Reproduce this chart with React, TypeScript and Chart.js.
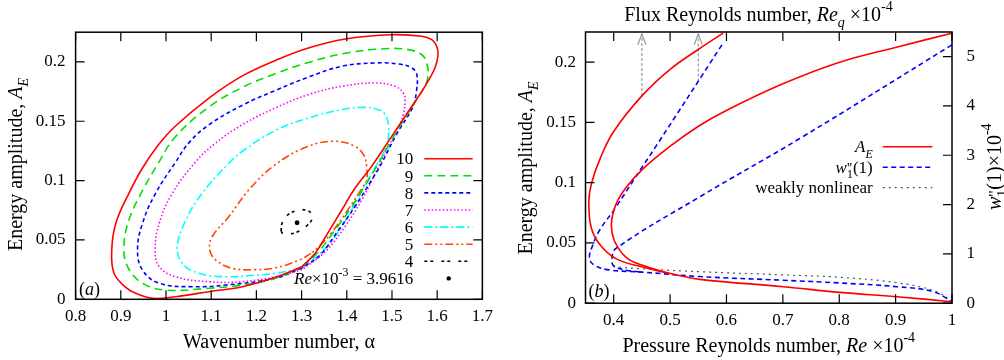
import React, { useEffect, useRef } from 'react';
import { Chart, registerables } from 'chart.js';

Chart.register(...registerables);

const SERIF = '"Liberation Serif", "Times New Roman", Times, serif';

// ---------------- Panel (a): energy amplitude vs wavenumber ----------------
const alphaTicks = [0.8, 0.9, 1.0, 1.1, 1.2, 1.3, 1.4, 1.5, 1.6, 1.7];
const alphaTickLabels = ['0.8', '0.9', '1', '1.1', '1.2', '1.3', '1.4', '1.5', '1.6', '1.7'];
const energyTicks = [0, 0.05, 0.1, 0.15, 0.2];
const energyTickLabels = ['0', '0.05', '0.1', '0.15', '0.2'];
const reLevels = ['10', '9', '8', '7', '6', '5', '4'];

const re10Alpha = [1.301, 1.242, 1.169, 1.095, 1.021, 0.970, 0.933, 0.911, 0.885, 0.880, 0.889, 0.918, 0.948, 0.985, 1.021, 1.095, 1.168, 1.242, 1.315, 1.400, 1.499, 1.566, 1.588, 1.599, 1.602, 1.595, 1.573, 1.544, 1.499, 1.455, 1.418, 1.389, 1.360, 1.330, 1.301];
const re10Energy = [0.0275, 0.0185, 0.0106, 0.0064, 0.0022, 0.0008, 0.0050, 0.0100, 0.0219, 0.0415, 0.0640, 0.0893, 0.1106, 0.1310, 0.1460, 0.1695, 0.1880, 0.2012, 0.2117, 0.2195, 0.2229, 0.2216, 0.2187, 0.2131, 0.2060, 0.1949, 0.1794, 0.1626, 0.1370, 0.1120, 0.0935, 0.0752, 0.0570, 0.0388, 0.0275];

const re9Alpha = [1.301, 1.242, 1.169, 1.095, 0.999, 0.948, 0.915, 0.907, 0.918, 0.948, 0.985, 1.021, 1.095, 1.169, 1.242, 1.315, 1.400, 1.485, 1.536, 1.566, 1.577, 1.579, 1.566, 1.544, 1.505, 1.470, 1.448, 1.411, 1.374, 1.337, 1.301];
const re9Energy = [0.0275, 0.0177, 0.0120, 0.0093, 0.0078, 0.0135, 0.0275, 0.0443, 0.0668, 0.0915, 0.1160, 0.1370, 0.1620, 0.1785, 0.1900, 0.1995, 0.2075, 0.2111, 0.2103, 0.2060, 0.1990, 0.1864, 0.1752, 0.1618, 0.1380, 0.1146, 0.1005, 0.0780, 0.0584, 0.0400, 0.0275];

const re8Alpha = [1.301, 1.242, 1.132, 1.058, 0.985, 0.948, 0.937, 0.948, 0.977, 1.021, 1.051, 1.095, 1.169, 1.242, 1.315, 1.389, 1.463, 1.514, 1.544, 1.555, 1.554, 1.546, 1.510, 1.477, 1.455, 1.418, 1.382, 1.340, 1.301];
const re8Energy = [0.0265, 0.0177, 0.0120, 0.0106, 0.0135, 0.0247, 0.0415, 0.0640, 0.0893, 0.1154, 0.1320, 0.1470, 0.1635, 0.1759, 0.1872, 0.1963, 0.1991, 0.1982, 0.1949, 0.1892, 0.1750, 0.1620, 0.1390, 0.1146, 0.1005, 0.0780, 0.0584, 0.0370, 0.0265];

const re7Alpha = [1.301, 1.242, 1.169, 1.095, 1.021, 0.985, 0.976, 0.985, 1.014, 1.065, 1.110, 1.169, 1.242, 1.315, 1.389, 1.463, 1.507, 1.525, 1.529, 1.525, 1.518, 1.490, 1.463, 1.433, 1.396, 1.352, 1.301];
const re7Energy = [0.0250, 0.0190, 0.0148, 0.0148, 0.0190, 0.0275, 0.0415, 0.0640, 0.0893, 0.1155, 0.1317, 0.1471, 0.1612, 0.1724, 0.1794, 0.1822, 0.1794, 0.1738, 0.1682, 0.1555, 0.1480, 0.1270, 0.1060, 0.0837, 0.0612, 0.0400, 0.0250];

const re6Alpha = [1.300, 1.242, 1.205, 1.132, 1.073, 1.036, 1.025, 1.044, 1.080, 1.139, 1.169, 1.242, 1.315, 1.389, 1.440, 1.470, 1.485, 1.492, 1.492, 1.488, 1.440, 1.389, 1.350, 1.300];
const re6Energy = [0.0260, 0.0219, 0.0205, 0.0190, 0.0219, 0.0303, 0.0443, 0.0668, 0.0893, 0.1146, 0.1247, 0.1422, 0.1527, 0.1597, 0.1617, 0.1597, 0.1555, 0.1471, 0.1359, 0.1286, 0.0960, 0.0612, 0.0420, 0.0260];

const re5Alpha = [1.321, 1.295, 1.242, 1.198, 1.146, 1.110, 1.097, 1.102, 1.139, 1.183, 1.242, 1.315, 1.374, 1.418, 1.437, 1.444, 1.444, 1.436, 1.400, 1.365, 1.340, 1.321];
const re5Energy = [0.0387, 0.0331, 0.0265, 0.0250, 0.0261, 0.0331, 0.0415, 0.0527, 0.0696, 0.0920, 0.1135, 0.1289, 0.1331, 0.1289, 0.1218, 0.1120, 0.1005, 0.0950, 0.0740, 0.0555, 0.0450, 0.0387];

const re4Alpha = [1.2546, 1.2568, 1.269, 1.2876, 1.3097, 1.323, 1.3243, 1.3132, 1.295, 1.273, 1.258, 1.2546];
const re4Energy = [0.0575, 0.0640, 0.0710, 0.0746, 0.0752, 0.0719, 0.0682, 0.0626, 0.0575, 0.0550, 0.0556, 0.0575];

const criticalAlpha = [1.29];
const criticalEnergy = [0.0645];
const criticalRe = '3.9616';

// ---------------- Panel (b): energy amplitude vs Reynolds number ----------------
const reTicks = [0.4, 0.5, 0.6, 0.7, 0.8, 0.9, 1.0];
const reTickLabels = ['0.4', '0.5', '0.6', '0.7', '0.8', '0.9', '1'];
const wTicks = [0, 1, 2, 3, 4, 5];
const wTickLabels = ['0', '1', '2', '3', '4', '5'];

const aeBranch1Re = [0.594, 0.550, 0.500, 0.450, 0.400, 0.376, 0.361, 0.356, 0.360, 0.375, 0.404, 0.451, 0.498, 0.553, 0.701, 0.801, 0.902, 1.000];
const aeBranch1 = [0.2240, 0.2105, 0.1940, 0.1720, 0.1425, 0.1200, 0.1000, 0.0850, 0.0630, 0.0490, 0.0370, 0.0300, 0.0248, 0.0198, 0.0137, 0.0090, 0.0054, 0.0012];

const aeBranch2Re = [1.000, 0.898, 0.798, 0.698, 0.598, 0.551, 0.498, 0.451, 0.422, 0.404, 0.396, 0.401, 0.422, 0.451, 0.498];
const aeBranch2 = [0.2240, 0.2120, 0.1995, 0.1816, 0.1595, 0.1470, 0.1295, 0.1110, 0.0960, 0.0820, 0.0660, 0.0520, 0.0380, 0.0314, 0.0248];

const wBranch1Re = [0.592, 0.476, 0.451, 0.404, 0.375, 0.363, 0.357, 0.366, 0.392, 0.451, 0.553, 0.701, 0.801, 0.902, 0.967, 1.000];
const wBranch1 = [5.24, 3.20, 2.77, 1.95, 1.48, 1.18, 0.91, 0.77, 0.675, 0.63, 0.54, 0.465, 0.41, 0.335, 0.233, 0.03];

const wBranch2Re = [1.000, 0.730, 0.553, 0.404, 0.397, 0.400, 0.422, 0.451];
const wBranch2 = [5.24, 3.34, 2.16, 1.11, 0.91, 0.76, 0.67, 0.63];

const weaklyRe = [0.399, 0.451, 0.553, 0.701, 0.801, 0.902, 0.967, 1.000];
const weaklyAE = [0.0303, 0.0285, 0.0261, 0.0235, 0.0215, 0.0170, 0.0105, 0.0020];

const arrowRe = [0.45, 0.55];
const arrowFromAE = [0.172, 0.184];
const arrowToAE = 0.2235;

// ---------------- helpers ----------------
type Seg = { t: string; it?: boolean; sc?: number; dy?: number; noAdv?: boolean };

function rich(ctx: CanvasRenderingContext2D, segs: Seg[], x: number, y: number, size: number,
  align: 'left' | 'center' | 'right', rot = 0) {
  ctx.save();
  ctx.translate(x, y);
  if (rot) ctx.rotate(rot);
  ctx.textBaseline = 'alphabetic';
  ctx.textAlign = 'left';
  ctx.fillStyle = '#000';
  const fontFor = (s: Seg) => `${s.it ? 'italic ' : ''}${(size * (s.sc ?? 1)).toFixed(2)}px ${SERIF}`;
  let w = 0;
  const widths = segs.map((s) => {
    ctx.font = fontFor(s);
    const m = ctx.measureText(s.t).width;
    if (!s.noAdv) w += m;
    return m;
  });
  let cx = align === 'center' ? -w / 2 : align === 'right' ? -w : 0;
  segs.forEach((s, i) => {
    ctx.font = fontFor(s);
    ctx.fillText(s.t, cx, (s.dy ?? 0) * size);
    if (!s.noAdv) cx += widths[i];
  });
  ctx.restore();
}

const pts = (xs: number[], ys: number[]) => xs.map((x, i) => ({ x, y: ys[i] }));

const tickFont = { family: SERIF, size: 17 };

function axis(min: number, max: number, ticks: number[], labels: string[], padding: number, extra: any = {}) {
  return {
    type: 'linear',
    min,
    max,
    afterBuildTicks: (s: any) => { s.ticks = ticks.map((v) => ({ value: v })); },
    ticks: {
      autoSkip: false,
      maxRotation: 0,
      minRotation: 0,
      padding,
      color: '#000',
      font: tickFont,
      callback: (_v: any, i: number) => labels[i],
    },
    grid: { display: false, drawTicks: false },
    border: { display: false },
    ...extra,
  };
}

const TL = 9;

const styleA = [
  { color: '#ff0000', dash: [] as number[] },
  { color: '#00e000', dash: [8, 5] },
  { color: '#0000ff', dash: [4, 3] },
  { color: '#ff00ff', dash: [1.5, 2.2] },
  { color: '#00ffff', dash: [8, 3, 2, 3] },
  { color: '#ff4500', dash: [8, 3, 2, 3, 2, 3] },
  { color: '#000000', dash: [3, 3, 3, 8] },
];

const yTitleSegs: Seg[] = [
  { t: 'Energy amplitude, ' },
  { t: 'A', it: true },
  { t: 'E', it: true, sc: 0.7, dy: 0.3 },
];

const wSegs: Seg[] = [
  { t: 'w', it: true }, { t: "''", sc: 0.85, dy: -0.02, noAdv: true }, { t: '1', sc: 0.7, dy: 0.3 },
];

const decoA = {
  id: 'decoA',
  afterDraw(chart: any) {
    const { ctx, chartArea: ca } = chart;
    const sx = chart.scales.x;
    const sy = chart.scales.y;
    ctx.save();
    ctx.setLineDash([]);
    ctx.strokeStyle = '#000';
    ctx.lineWidth = 1.2;
    ctx.beginPath();
    alphaTicks.forEach((v) => {
      const p = sx.getPixelForValue(v);
      ctx.moveTo(p, ca.bottom); ctx.lineTo(p, ca.bottom - TL);
      ctx.moveTo(p, ca.top); ctx.lineTo(p, ca.top + TL);
    });
    energyTicks.forEach((v) => {
      const p = sy.getPixelForValue(v);
      ctx.moveTo(ca.left, p); ctx.lineTo(ca.left + TL, p);
      ctx.moveTo(ca.right, p); ctx.lineTo(ca.right - TL, p);
    });
    ctx.stroke();
    ctx.lineWidth = 1.5;
    ctx.strokeRect(ca.left, ca.top, ca.right - ca.left, ca.bottom - ca.top);

    rich(ctx, [{ t: 'Wavenumber number, α' }], (ca.left + ca.right) / 2, 348, 20, 'center');
    rich(ctx, yTitleSegs, 21.5, 164.5, 20, 'center', -Math.PI / 2);
    rich(ctx, [{ t: '(' }, { t: 'a', it: true }, { t: ')' }], 79, 295, 18, 'left');

    const ds = chart.data.datasets;
    reLevels.forEach((lab, i) => {
      const yy = 158.7 + i * 17.1;
      rich(ctx, [{ t: lab }], 413.3, yy + 5.7, 17, 'right');
      const d = ds[i];
      ctx.strokeStyle = d.borderColor;
      ctx.lineWidth = d.borderWidth;
      ctx.setLineDash(d.borderDash || []);
      ctx.beginPath();
      ctx.moveTo(424.3, yy);
      ctx.lineTo(472.7, yy);
      ctx.stroke();
    });
    const yr = 158.7 + 7 * 17.1;
    rich(ctx, [
      { t: 'Re', it: true }, { t: '×10' }, { t: '-3', sc: 0.7, dy: -0.5 }, { t: ' = ' + criticalRe },
    ], 413.3, yr + 5.7, 17, 'right');
    ctx.setLineDash([]);
    ctx.fillStyle = '#000';
    ctx.beginPath();
    ctx.arc(448.7, yr, 2.2, 0, Math.PI * 2);
    ctx.fill();
    ctx.restore();
  },
};

const decoB = {
  id: 'decoB',
  afterDraw(chart: any) {
    const { ctx, chartArea: ca } = chart;
    const sx = chart.scales.x;
    const sy = chart.scales.y;
    const sy2 = chart.scales.y2;
    ctx.save();
    ctx.setLineDash([]);
    ctx.strokeStyle = '#000';
    ctx.lineWidth = 1.2;
    ctx.beginPath();
    reTicks.forEach((v) => {
      const p = sx.getPixelForValue(v);
      ctx.moveTo(p, ca.bottom); ctx.lineTo(p, ca.bottom - TL);
      ctx.moveTo(p, ca.top); ctx.lineTo(p, ca.top + TL);
    });
    energyTicks.forEach((v) => {
      const p = sy.getPixelForValue(v);
      ctx.moveTo(ca.left, p); ctx.lineTo(ca.left + TL, p);
    });
    wTicks.forEach((v) => {
      const p = sy2.getPixelForValue(v);
      ctx.moveTo(ca.right, p); ctx.lineTo(ca.right - TL, p);
    });
    ctx.stroke();
    ctx.lineWidth = 1.5;
    ctx.strokeRect(ca.left, ca.top, ca.right - ca.left, ca.bottom - ca.top);

    // open arrow heads of the weakly nonlinear blow-up
    ctx.strokeStyle = '#999999';
    ctx.lineWidth = 1.2;
    arrowRe.forEach((r) => {
      const px = sx.getPixelForValue(r);
      const py = sy.getPixelForValue(arrowToAE);
      ctx.beginPath();
      ctx.moveTo(px - 4, py + 11);
      ctx.lineTo(px, py);
      ctx.lineTo(px + 4, py + 11);
      ctx.stroke();
    });

    rich(ctx, [
      { t: 'Flux Reynolds number, ' }, { t: 'Re', it: true }, { t: 'q', it: true, sc: 0.7, dy: 0.3 },
      { t: ' ×10' }, { t: '-4', sc: 0.7, dy: -0.5 },
    ], 258.5, 20.5, 20, 'center');
    rich(ctx, [
      { t: 'Pressure Reynolds number, ' }, { t: 'Re', it: true }, { t: ' ×10' }, { t: '-4', sc: 0.7, dy: -0.5 },
    ], (ca.left + ca.right) / 2, 351.5, 20, 'center');
    rich(ctx, yTitleSegs, 31.6, 168, 20, 'center', -Math.PI / 2);
    rich(ctx, [...wSegs, { t: '(1)×10' }, { t: '-4', sc: 0.7, dy: -0.5 }], 500.5, 166.7, 20, 'center', -Math.PI / 2);
    rich(ctx, [{ t: '(' }, { t: 'b', it: true }, { t: ')' }], 88.5, 297, 18, 'left');

    const ds = chart.data.datasets;
    const entries: { segs: Seg[]; d: any }[] = [
      { segs: [{ t: 'A', it: true }, { t: 'E', it: true, sc: 0.7, dy: 0.3 }], d: ds[0] },
      { segs: [...wSegs, { t: '(1)' }], d: ds[2] },
      { segs: [{ t: 'weakly nonlinear' }], d: ds[4] },
    ];
    entries.forEach((e, i) => {
      const yy = 146.7 + i * 20.5;
      rich(ctx, e.segs, 372.7, yy + 5.7, 17, 'right');
      ctx.strokeStyle = e.d.borderColor;
      ctx.lineWidth = e.d.borderWidth;
      ctx.setLineDash(e.d.borderDash || []);
      ctx.beginPath();
      ctx.moveTo(382.7, yy);
      ctx.lineTo(432.3, yy);
      ctx.stroke();
    });
    ctx.restore();
  },
};

function configA(): any {
  const loops = [
    [re10Alpha, re10Energy], [re9Alpha, re9Energy], [re8Alpha, re8Energy], [re7Alpha, re7Energy],
    [re6Alpha, re6Energy], [re5Alpha, re5Energy], [re4Alpha, re4Energy],
  ];
  const datasets: any[] = loops.map(([a, e], i) => ({
    label: reLevels[i],
    data: pts(a, e),
    showLine: true,
    borderColor: styleA[i].color,
    borderDash: styleA[i].dash,
    borderWidth: 1.6,
    pointRadius: 0,
    tension: 0.4,
    fill: false,
  }));
  datasets.push({
    label: 'critical',
    data: pts(criticalAlpha, criticalEnergy),
    showLine: false,
    pointRadius: 2.4,
    pointBackgroundColor: '#000',
    pointBorderColor: '#000',
    borderWidth: 0,
  });
  return {
    type: 'scatter',
    data: { datasets },
    options: {
      animation: false,
      responsive: false,
      devicePixelRatio: 1,
      events: [],
      layout: { padding: { top: 32.2, right: 16, left: 0, bottom: 0 } },
      plugins: { legend: { display: false }, tooltip: { enabled: false } },
      scales: {
        x: axis(0.8, 1.7, alphaTicks, alphaTickLabels, 7, { position: 'bottom', afterFit: (s: any) => { s.height = 60.7; } }),
        y: axis(0, 0.225, energyTicks, energyTickLabels, 10, { position: 'left', afterFit: (s: any) => { s.width = 75.6; } }),
      },
    },
    plugins: [decoA],
  };
}

function configB(): any {
  const red = { borderColor: '#ff0000', borderWidth: 1.6, borderDash: [] as number[] };
  const blue = { borderColor: '#0000ff', borderWidth: 1.6, borderDash: [5, 3.5] };
  const common = { showLine: true, pointRadius: 0, tension: 0.4, fill: false };
  const datasets: any[] = [
    { label: 'A_E', data: pts(aeBranch1Re, aeBranch1), yAxisID: 'y', ...common, ...red },
    { label: 'A_E b', data: pts(aeBranch2Re, aeBranch2), yAxisID: 'y', ...common, ...red },
    { label: "w''", data: pts(wBranch1Re, wBranch1), yAxisID: 'y2', ...common, ...blue },
    { label: "w'' b", data: pts(wBranch2Re, wBranch2), yAxisID: 'y2', ...common, ...blue },
    { label: 'weakly nonlinear', data: pts(weaklyRe, weaklyAE), yAxisID: 'y', ...common, borderColor: '#555555', borderWidth: 1.2, borderDash: [2, 4] },
  ];
  arrowRe.forEach((r, i) => {
    datasets.push({
      label: 'arrow' + i,
      data: pts([r, r], [arrowFromAE[i], arrowToAE]),
      yAxisID: 'y',
      showLine: true,
      pointRadius: 0,
      tension: 0,
      borderColor: '#999999',
      borderWidth: 1.2,
      borderDash: [3, 2],
    });
  });
  return {
    type: 'scatter',
    data: { datasets },
    options: {
      animation: false,
      responsive: false,
      devicePixelRatio: 1,
      events: [],
      layout: { padding: { top: 32, right: 0, left: 0, bottom: 0 } },
      plugins: { legend: { display: false }, tooltip: { enabled: false } },
      scales: {
        x: axis(0.35, 1.0, reTicks, reTickLabels, 7, { position: 'bottom', afterFit: (s: any) => { s.height = 56.8; } }),
        y: axis(0, 0.225, energyTicks, energyTickLabels, 9.5, { position: 'left', afterFit: (s: any) => { s.width = 85.5; } }),
        y2: axis(0, 5.5, wTicks, wTickLabels, 14.5, { position: 'right', afterFit: (s: any) => { s.width = 52; } }),
      },
    },
    plugins: [decoB],
  };
}

export default function App() {
  const refA = useRef<HTMLCanvasElement>(null);
  const refB = useRef<HTMLCanvasElement>(null);
  useEffect(() => {
    const a = new Chart(refA.current as HTMLCanvasElement, configA());
    const b = new Chart(refB.current as HTMLCanvasElement, configB());
    return () => { a.destroy(); b.destroy(); };
  }, []);
  return (
    <div style={{ position: 'absolute', left: 0, top: 0, width: 1004, height: 360, background: '#fff', display: 'flex' }}>
      <canvas ref={refA} width={500} height={360} style={{ display: 'block', width: 500, height: 360 }} />
      <canvas ref={refB} width={504} height={360} style={{ display: 'block', width: 504, height: 360 }} />
    </div>
  );
}
